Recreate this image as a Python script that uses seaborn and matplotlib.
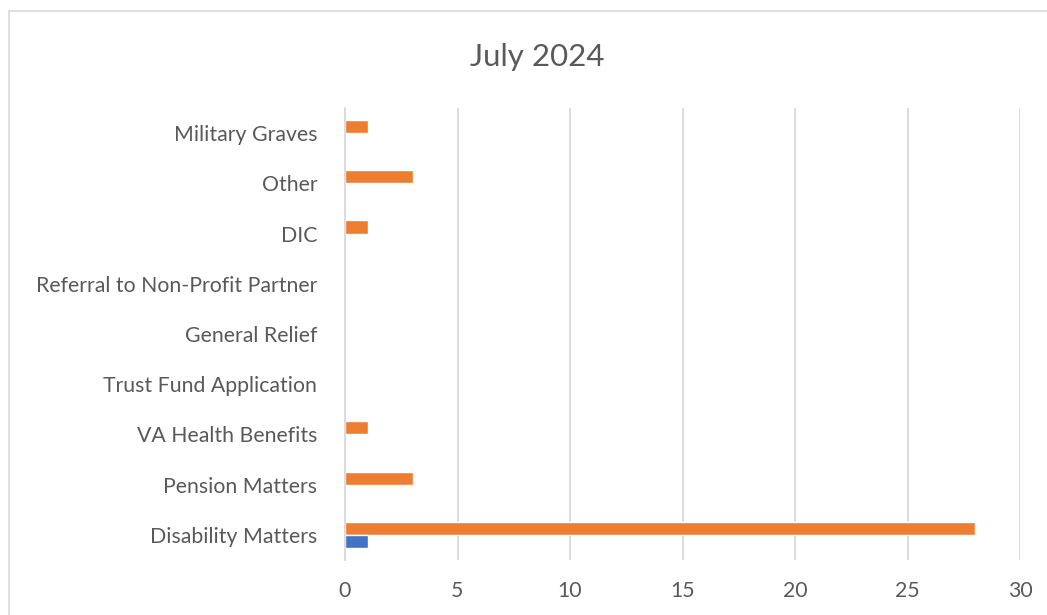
import matplotlib

matplotlib.use("Agg")
import matplotlib.pyplot as plt
import matplotlib.patches as mpatches
import pandas as pd
import seaborn as sns

# categories listed top to bottom as in the chart
categories = [
    "Military Graves",
    "Other",
    "DIC",
    "Referral to Non-Profit Partner",
    "General Relief",
    "Trust Fund Application",
    "VA Health Benefits",
    "Pension Matters",
    "Disability Matters",
]
series1 = [0, 0, 0, 0, 0, 0, 0, 0, 1]   # blue
series2 = [1, 3, 1, 0, 0, 0, 1, 3, 28]  # orange

df = pd.DataFrame({
    "category": categories * 2,
    "value": series1 + series2,
    "series": ["Series1"] * len(categories) + ["Series2"] * len(categories),
})

sns.set_theme(style="white")
plt.rcParams["font.family"] = ["Lato", "DejaVu Sans"]

TEXT = "#595959"
GRID = "#d9d9d9"

fig = plt.figure(figsize=(10.47, 6.15), dpi=100)
ax = fig.add_axes([345 / 1047, 1 - 560 / 615, (1020 - 345) / 1047, (560 - 108) / 615])

sns.barplot(data=df, x="value", y="category", hue="series",
            order=categories, hue_order=["Series2", "Series1"],
            palette={"Series1": "#4472C4", "Series2": "#ED7D31"},
            saturation=1, width=0.52, orient="h", legend=False, ax=ax)

ax.set_xlim(0, 30)
ax.set_ylim(len(categories) - 0.5, -0.5)
ax.set_xticks(range(0, 31, 5))
ax.set_xlabel("")
ax.set_ylabel("")
ax.xaxis.grid(True, color=GRID, lw=1.3)
ax.yaxis.grid(False)
ax.set_axisbelow(True)
for side in ["top", "right", "bottom"]:
    ax.spines[side].set_visible(False)
ax.spines["left"].set_color(GRID)
ax.spines["left"].set_linewidth(1.3)
ax.tick_params(axis="y", length=0, pad=20, labelsize=15.3, labelcolor=TEXT)
ax.tick_params(axis="x", length=0, pad=15, labelsize=15.3, labelcolor=TEXT)

fig.text(537 / 1047, 1 - 57 / 615, "July 2024", ha="center", va="center",
         fontsize=22.5, color=TEXT)

# light chart-area frame, clipped on the right and bottom like the source
fig.patches.append(mpatches.Rectangle((9 / 1047, -0.05), 1.05, 1.05 - 10.5 / 615,
                                      transform=fig.transFigure, fill=False,
                                      ec=GRID, lw=1.2))

fig.savefig("out.png", dpi=100)
